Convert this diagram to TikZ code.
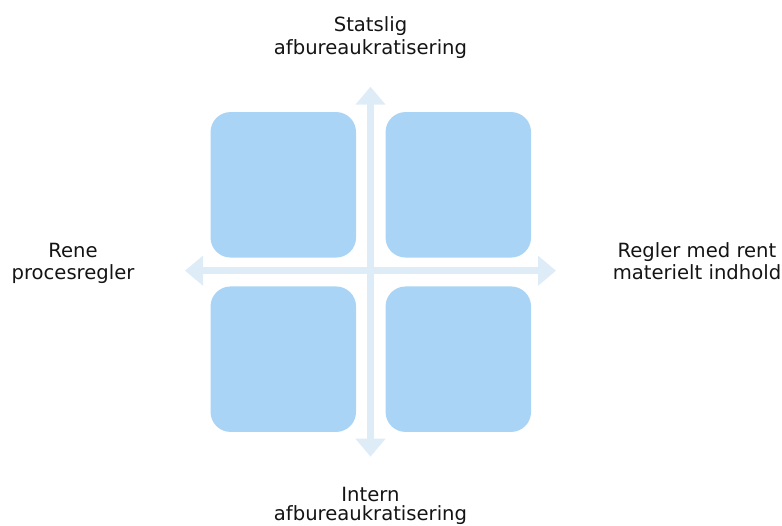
\documentclass[tikz,border=0pt]{standalone}
\usepackage{fontspec}
\setmainfont{DejaVu Sans}
\usetikzlibrary{arrows.meta}
\definecolor{boxblue}{RGB}{169,212,245}
\definecolor{axisblue}{RGB}{222,236,248}
\definecolor{txt}{RGB}{20,20,20}
\begin{document}
\begin{tikzpicture}[x=1pt,y=-1pt,
  quad/.style={fill=boxblue, draw=none, rounded corners=20pt, minimum width=145.5pt, minimum height=145.5pt, inner sep=0pt},
  axis/.style={draw=axisblue, line width=7pt, {Triangle[width=29pt,length=18pt]}-{Triangle[width=29pt,length=18pt]}},
  lbl/.style={font=\fontsize{19.6}{22.6}\selectfont, text=txt, align=center, anchor=base, inner sep=0pt}
]
\useasboundingbox (0,0) rectangle (782,526);
\coordinate (ntip) at (370.5,86.7);
\coordinate (stip) at (370.5,456.7);
\coordinate (wtip) at (185,270.7);
\coordinate (etip) at (556,270.7);
\node[quad] (tl) at (283.3,184.8) {};
\node[quad] (tr) at (458.3,184.8) {};
\node[quad] (bl) at (283.3,359.2) {};
\node[quad] (br) at (458.3,359.2) {};
\draw[axis] (wtip) -- (etip);
\draw[axis] (stip) -- (ntip);
\node[lbl] (top) at (370.5,54.3) {Statslig\\afbureaukratisering};
\node[lbl] (left) at (73,280) {Rene\\procesregler};
\node[lbl] (right) at (697,280) {Regler med rent\\materielt indhold};
\node[lbl, font=\fontsize{19.6}{19}\selectfont] (bottom) at (370.5,520.5) {Intern\\afbureaukratisering};
\end{tikzpicture}
\end{document}
